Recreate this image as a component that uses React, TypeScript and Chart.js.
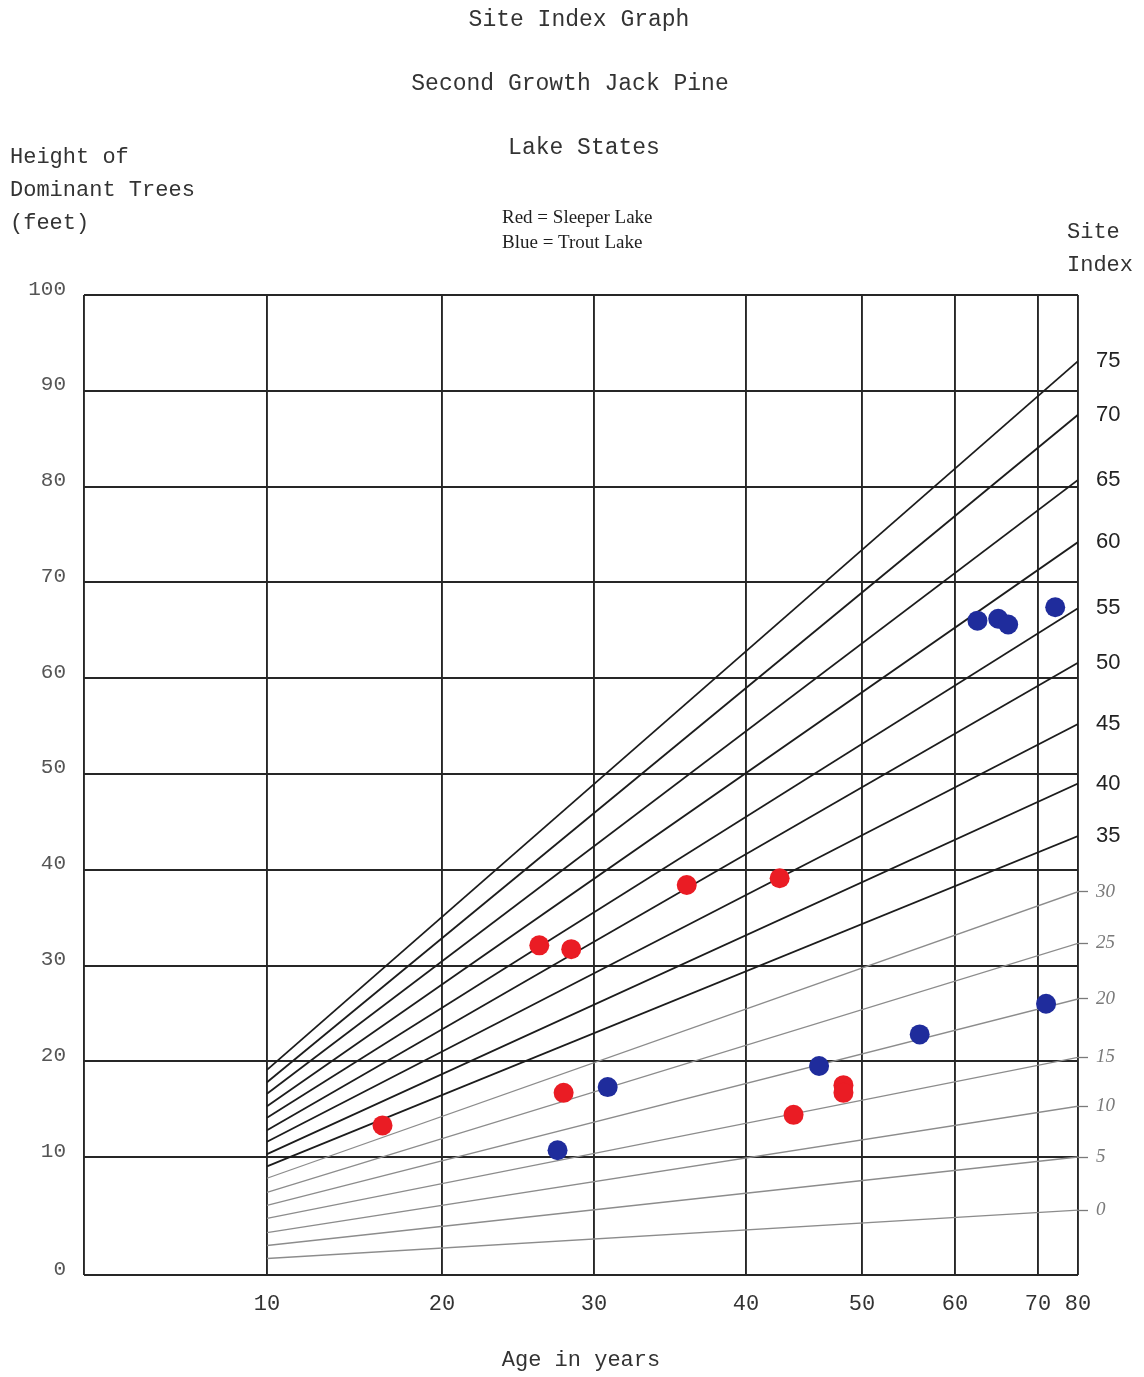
import React, { useEffect, useRef } from 'react';
import { Chart, registerables, LinearScale } from 'chart.js';

Chart.register(...registerables);

// ---------- data ----------
const TITLE_LINES = ['Site Index Graph', 'Second Growth Jack Pine', 'Lake States'];
const Y_TITLE_LINES = ['Height of', 'Dominant Trees', '(feet)'];
const RIGHT_TITLE_LINES = ['Site', 'Index'];
const X_TITLE = 'Age in years';

const SERIES_COLOR_NAMES = ['Red', 'Blue'];
const SERIES_NAMES = ['Sleeper Lake', 'Trout Lake'];

// Sleeper Lake (red) plots
const SLEEPER_AGE = [16.6, 26.4, 28.5, 28.0, 36.1, 42.9, 44.1, 48.4, 48.4];
const SLEEPER_HEIGHT = [13.3, 32.1, 31.7, 16.7, 38.4, 39.1, 14.4, 17.5, 16.7];

// Trout Lake (blue) plots
const TROUT_AGE = [27.6, 30.9, 46.3, 56.2, 72.0, 62.7, 65.2, 66.4, 74.3];
const TROUT_HEIGHT = [10.7, 17.3, 19.5, 22.8, 26.0, 66.0, 66.2, 65.6, 67.4];

// Printed site-index guide lines (ink)
const SITE_INDEX_INK = [75, 70, 65, 60, 55, 50, 45, 40, 35];
const INK_START_HEIGHT = [19.1, 17.8, 16.6, 15.3, 14.1, 12.8, 11.6, 10.3, 9.2];
const INK_END_HEIGHT = [93.1, 87.5, 80.7, 74.2, 67.3, 61.6, 55.2, 49.0, 43.5];

// Hand-drawn site-index guide lines (pencil)
const SITE_INDEX_PENCIL = [30, 25, 20, 15, 10, 5, 0];
const PENCIL_START_HEIGHT = [8.2, 7.0, 5.9, 4.8, 3.6, 2.5, 1.4];
const PENCIL_END_HEIGHT = [37.7, 32.3, 26.5, 20.4, 15.3, 10.0, 5.5];

const LINE_START_AGE = 10;
const LINE_END_AGE = 80;

const AGE_MIN = 0;
const AGE_MAX = 80;
const AGE_STEP = 10;
const HEIGHT_MIN = 0;
const HEIGHT_MAX = 100;
const HEIGHT_STEP = 10;

// ---------- non-uniform axis geometry of the printed form ----------
const AGE_KNOTS = [0, 10, 20, 30, 40, 50, 60, 70, 80];
const AGE_FRACTIONS = [0, 0.1841, 0.3602, 0.5131, 0.666, 0.7827, 0.8763, 0.9598, 1];
const HEIGHT_KNOTS = [0, 10, 100];
const HEIGHT_FRACTIONS = [0, 0.1204, 1];

const KNOT_TABLE: Record<string, { v: number[]; f: number[] }> = {
  age: { v: AGE_KNOTS, f: AGE_FRACTIONS },
  height: { v: HEIGHT_KNOTS, f: HEIGHT_FRACTIONS },
};

function interp(x: number, xs: number[], ys: number[]): number {
  const n = xs.length;
  let i = 0;
  if (x <= xs[0]) i = 0;
  else if (x >= xs[n - 1]) i = n - 2;
  else {
    while (i < n - 2 && x > xs[i + 1]) i++;
  }
  const t = (x - xs[i]) / (xs[i + 1] - xs[i]);
  return ys[i] + t * (ys[i + 1] - ys[i]);
}

class PiecewiseScale extends LinearScale {
  static id = 'piecewise';
  static defaults = LinearScale.defaults;
  getPixelForValue(value: any) {
    if (value === null || value === undefined || isNaN(value)) return NaN;
    const k = KNOT_TABLE[(this.options as any).knots];
    return this.getPixelForDecimal(interp(+value, k.v, k.f));
  }
  getValueForPixel(pixel: number) {
    const k = KNOT_TABLE[(this.options as any).knots];
    return interp(this.getDecimalForPixel(pixel), k.f, k.v);
  }
}
Chart.register(PiecewiseScale as any);

const MONO = '"Liberation Mono", "DejaVu Sans Mono", monospace';
const SERIF = '"Liberation Serif", "DejaVu Serif", serif';
const SANS = '"Liberation Sans", Arial, sans-serif';

const pageText = {
  id: 'pageText',
  afterDraw(chart: any) {
    const ctx = chart.ctx as CanvasRenderingContext2D;
    ctx.save();
    ctx.textBaseline = 'middle';
    ctx.fillStyle = '#333';
    ctx.font = `23px ${MONO}`;
    ctx.textAlign = 'center';
    const titleY = [20, 84, 148];
    const titleX = [579, 570, 584];
    TITLE_LINES.forEach((t, i) => ctx.fillText(t, titleX[i], titleY[i]));

    ctx.textAlign = 'left';
    ctx.font = `22px ${MONO}`;
    const yTitleY = [157, 190, 223];
    Y_TITLE_LINES.forEach((t, i) => ctx.fillText(t, 10, yTitleY[i]));
    const rTitleY = [232, 265];
    RIGHT_TITLE_LINES.forEach((t, i) => ctx.fillText(t, 1067, rTitleY[i]));

    ctx.fillStyle = '#1e1e1e';
    ctx.font = `19px ${SERIF}`;
    const legY = [218, 243];
    SERIES_NAMES.forEach((name, i) => ctx.fillText(`${SERIES_COLOR_NAMES[i]} = ${name}`, 502, legY[i]));
    ctx.restore();
  },
};

export default function App() {
  const canvasRef = useRef<HTMLCanvasElement | null>(null);

  useEffect(() => {
    document.body.style.margin = '0';
    const canvas = canvasRef.current;
    if (!canvas) return;

    const inkLines = SITE_INDEX_INK.map((si, i) => ({
      label: `SI ${si}`,
      data: [
        { x: LINE_START_AGE, y: INK_START_HEIGHT[i] },
        { x: LINE_END_AGE, y: INK_END_HEIGHT[i] },
      ],
      showLine: true,
      borderColor: '#1c1c1c',
      borderWidth: 1.8,
      pointRadius: 0,
      pointHoverRadius: 0,
      xAxisID: 'x',
      yAxisID: 'y',
    }));
    const pencilLines = SITE_INDEX_PENCIL.map((si, i) => ({
      label: `SI ${si}`,
      data: [
        { x: LINE_START_AGE, y: PENCIL_START_HEIGHT[i] },
        { x: LINE_END_AGE, y: PENCIL_END_HEIGHT[i] },
      ],
      showLine: true,
      borderColor: '#8c8c8c',
      borderWidth: 1.3,
      pointRadius: 0,
      pointHoverRadius: 0,
      xAxisID: 'x',
      yAxisID: 'y',
    }));

    const rightTickValues = [...INK_END_HEIGHT, ...PENCIL_END_HEIGHT];
    const rightTickLabels = [...SITE_INDEX_INK, ...SITE_INDEX_PENCIL].map(String);
    const nInk = SITE_INDEX_INK.length;

    const chart = new Chart(canvas, {
      type: 'scatter',
      data: {
        datasets: [
          {
            label: SERIES_NAMES[0],
            data: SLEEPER_AGE.map((a, i) => ({ x: a, y: SLEEPER_HEIGHT[i] })),
            backgroundColor: '#ea1c24',
            borderWidth: 0,
            pointRadius: 10,
            pointHoverRadius: 10,
            xAxisID: 'x',
            yAxisID: 'y',
          },
          {
            label: SERIES_NAMES[1],
            data: TROUT_AGE.map((a, i) => ({ x: a, y: TROUT_HEIGHT[i] })),
            backgroundColor: '#1f2c9c',
            borderWidth: 0,
            pointRadius: 10,
            pointHoverRadius: 10,
            xAxisID: 'x',
            yAxisID: 'y',
          },
          ...inkLines,
          ...pencilLines,
        ] as any,
      },
      options: {
        animation: false,
        responsive: false,
        maintainAspectRatio: false,
        events: [],
        layout: { padding: { top: 295, left: 0, right: 0, bottom: 0 } },
        plugins: {
          legend: { display: false },
          tooltip: { enabled: false },
          title: { display: false },
        },
        scales: {
          x: {
            type: 'piecewise' as any,
            knots: 'age',
            position: 'bottom',
            min: AGE_MIN,
            max: AGE_MAX,
            ticks: {
              stepSize: AGE_STEP,
              autoSkip: false,
              maxRotation: 0,
              padding: 16,
              color: '#333',
              font: { family: MONO, size: 22 },
              callback: (v: any) => (v === AGE_MIN ? '' : String(v)),
            },
            grid: { color: '#262626', lineWidth: 1.9, drawTicks: false },
            border: { display: false },
            title: {
              display: true,
              text: X_TITLE,
              color: '#333',
              font: { family: MONO, size: 22 },
              padding: { top: 0, bottom: 4 },
            },
            afterFit: (s: any) => {
              s.height = 102;
            },
          } as any,
          y: {
            type: 'piecewise' as any,
            knots: 'height',
            position: 'left',
            min: HEIGHT_MIN,
            max: HEIGHT_MAX,
            ticks: {
              stepSize: HEIGHT_STEP,
              autoSkip: false,
              padding: 18,
              labelOffset: -6,
              color: '#555',
              font: { family: MONO, size: 21 },
            },
            grid: { color: '#262626', lineWidth: 1.9, drawTicks: false },
            border: { display: false },
            afterFit: (s: any) => {
              s.width = 84;
            },
          } as any,
          y2: {
            type: 'piecewise' as any,
            knots: 'height',
            position: 'right',
            min: HEIGHT_MIN,
            max: HEIGHT_MAX,
            afterBuildTicks: (s: any) => {
              s.ticks = rightTickValues.map((v) => ({ value: v }));
            },
            ticks: {
              autoSkip: false,
              padding: 8,
              color: (c: any) => (c.index < nInk ? '#222' : '#7a7a7a'),
              font: (c: any) =>
                c.index < nInk
                  ? { family: SANS, size: 22 }
                  : { family: SERIF, size: 19, style: 'italic' },
              callback: (_v: any, i: number) => rightTickLabels[i],
            },
            grid: {
              display: true,
              drawOnChartArea: false,
              drawTicks: true,
              tickLength: 10,
              tickWidth: 1.3,
              tickColor: (c: any) => (c.index < nInk ? 'rgba(0,0,0,0)' : '#7a7a7a'),
            },
            border: { display: false },
            afterFit: (s: any) => {
              s.width = 66;
            },
          } as any,
        },
      } as any,
      plugins: [pageText],
    });

    return () => {
      chart.destroy();
    };
  }, []);

  return (
    <div style={{ width: 1144, height: 1377, background: '#fff' }}>
      <canvas ref={canvasRef} width={1144} height={1377} style={{ display: 'block' }} />
    </div>
  );
}
